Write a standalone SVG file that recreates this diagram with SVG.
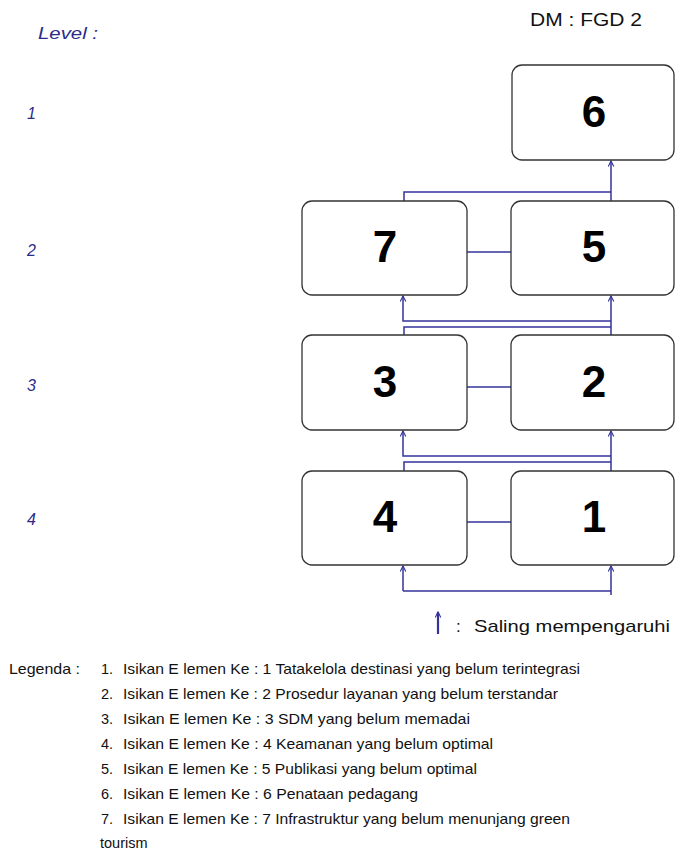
<svg xmlns="http://www.w3.org/2000/svg" width="675" height="850" viewBox="0 0 675 850">
<style>
.box{fill:#fff;stroke:#333;stroke-width:1.3}
.num{font-family:"Liberation Sans",Arial,sans-serif;font-weight:bold;font-size:44px;fill:#000;text-anchor:middle}
.lvl{font-family:"Liberation Sans",Arial,sans-serif;font-style:italic;font-size:16px;fill:#2b2b8c}
.con{fill:none;stroke:#33339a;stroke-width:1.5}
.arr{fill:none;stroke:#33339a;stroke-width:1.5;marker-end:url(#ah)}
.txt{font-family:"Liberation Sans",Arial,sans-serif;font-size:14.5px;fill:#111}
</style>
<defs>
<marker id="ah" viewBox="0 0 10 10" refX="9" refY="5" markerWidth="7" markerHeight="7" markerUnits="userSpaceOnUse" orient="auto">
<path d="M1,1 L9,5 L1,9" fill="none" stroke="#33339a" stroke-width="1.6"/>
</marker>
</defs>
<rect width="675" height="850" fill="#fff"/>
<text class="lvl" x="38" y="39" textLength="60" lengthAdjust="spacingAndGlyphs">Level :</text>
<text class="lvl" x="27" y="119">1</text>
<text class="lvl" x="27" y="256">2</text>
<text class="lvl" x="27" y="391">3</text>
<text class="lvl" x="27" y="525">4</text>
<text class="txt" x="530" y="26" style="font-size:18px" textLength="112" lengthAdjust="spacingAndGlyphs">DM  : FGD 2</text>
<g id="connectors">
<path class="con" d="M404,201 V192 H611"/>
<path class="arr" d="M611,201 V161"/>
<path class="con" d="M467,252 H511"/>
<path class="con" d="M404,335 V327 H611"/>
<path class="arr" d="M611,335 V296"/>
<path class="arr" d="M611,321 H403 V296"/>
<path class="con" d="M467,387 H511"/>
<path class="con" d="M404,471 V462 H611"/>
<path class="arr" d="M611,471 V431"/>
<path class="arr" d="M611,456 H403 V431"/>
<path class="con" d="M467,522 H511"/>
<path class="con" d="M403,591 H611"/>
<path class="arr" d="M403,591 V566"/>
<path class="arr" d="M611,595 V566"/>
</g>
<g id="node6"><rect class="box" x="512" y="65" width="162" height="95" rx="10"/><text class="num" x="594" y="127">6</text></g>
<g id="node7"><rect class="box" x="302" y="201" width="165" height="94" rx="10"/><text class="num" x="385" y="262">7</text></g>
<g id="node5"><rect class="box" x="511" y="201" width="163" height="94" rx="10"/><text class="num" x="594" y="262">5</text></g>
<g id="node3"><rect class="box" x="302" y="335" width="165" height="95" rx="10"/><text class="num" x="385" y="397">3</text></g>
<g id="node2"><rect class="box" x="511" y="335" width="163" height="95" rx="10"/><text class="num" x="594" y="397">2</text></g>
<g id="node4"><rect class="box" x="302" y="471" width="165" height="94" rx="10"/><text class="num" x="385" y="532">4</text></g>
<g id="node1"><rect class="box" x="511" y="471" width="163" height="94" rx="10"/><text class="num" x="594" y="532">1</text></g>
<g id="legend-key">
<path class="arr" d="M438,634 V612" style="stroke-width:2.2"/>
<text class="txt" x="456" y="632" style="font-size:17px">:</text>
<text class="txt" x="474" y="632" style="font-size:17px" textLength="196" lengthAdjust="spacingAndGlyphs">Saling mempengaruhi</text>
</g>
<g id="legend">
<text class="txt" x="9" y="674" textLength="71" lengthAdjust="spacingAndGlyphs">Legenda :</text>
<text class="txt" x="101" y="674">1.</text>
<text class="txt" x="123" y="674" textLength="457" lengthAdjust="spacingAndGlyphs">Isikan E lemen Ke : 1 Tatakelola destinasi yang belum terintegrasi</text>
<text class="txt" x="101" y="699">2.</text>
<text class="txt" x="123" y="699" textLength="435" lengthAdjust="spacingAndGlyphs">Isikan E lemen Ke : 2 Prosedur layanan yang belum terstandar</text>
<text class="txt" x="101" y="724">3.</text>
<text class="txt" x="123" y="724" textLength="347" lengthAdjust="spacingAndGlyphs">Isikan E lemen Ke : 3 SDM yang belum memadai</text>
<text class="txt" x="101" y="749">4.</text>
<text class="txt" x="123" y="749" textLength="370" lengthAdjust="spacingAndGlyphs">Isikan E lemen Ke : 4 Keamanan yang belum optimal</text>
<text class="txt" x="101" y="774">5.</text>
<text class="txt" x="123" y="774" textLength="354" lengthAdjust="spacingAndGlyphs">Isikan E lemen Ke : 5 Publikasi yang belum optimal</text>
<text class="txt" x="101" y="799">6.</text>
<text class="txt" x="123" y="799" textLength="295" lengthAdjust="spacingAndGlyphs">Isikan E lemen Ke : 6 Penataan pedagang</text>
<text class="txt" x="101" y="824">7.</text>
<text class="txt" x="123" y="824" textLength="447" lengthAdjust="spacingAndGlyphs">Isikan E lemen Ke : 7 Infrastruktur yang belum menunjang green</text>
<text class="txt" x="100" y="848">tourism</text>
</g>
</svg>
